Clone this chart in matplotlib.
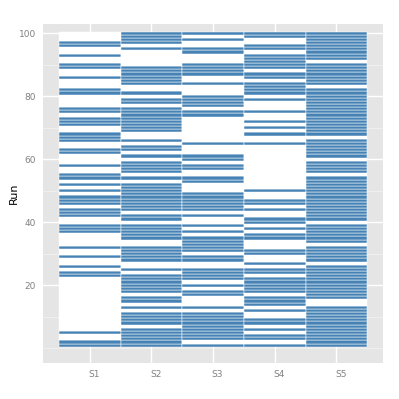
import matplotlib
matplotlib.use("Agg")
import matplotlib.pyplot as plt
import matplotlib.transforms as mtransforms
import numpy as np

series = ["S1", "S2", "S3", "S4", "S5"]
runs = list(range(1, 101))

S1 = [1, 2, 5, 23, 24, 26, 29, 32, 37, 38, 39, 42, 43, 44, 46, 47, 48, 50, 52, 54,
      55, 58, 62, 63, 66, 67, 68, 71, 72, 73, 75, 76, 81, 82, 86, 89, 90, 93, 96, 97]
S2 = [1, 2, 3, 4, 5, 6, 8, 9, 10, 11, 13, 15, 16, 18, 19, 20, 21, 22, 23, 25, 28, 29,
      30, 31, 32, 35, 36, 37, 38, 39, 41, 42, 44, 45, 46, 47, 48, 49, 50, 51, 52, 54,
      56, 57, 58, 59, 61, 63, 64, 66, 69, 70, 71, 72, 73, 74, 75, 76, 78, 79, 81, 84,
      85, 86, 87, 88, 89, 95, 97, 98, 99, 100]
S3 = [1, 3, 4, 5, 6, 7, 8, 9, 10, 11, 13, 17, 18, 20, 22, 23, 24, 25, 28, 29, 31, 32,
      33, 34, 35, 37, 39, 42, 44, 45, 46, 47, 48, 49, 53, 54, 57, 58, 60, 61, 65, 74,
      75, 77, 78, 79, 80, 84, 87, 88, 89, 90, 94, 95, 98, 100]
S4 = [1, 3, 4, 6, 8, 9, 12, 14, 15, 16, 18, 19, 20, 21, 22, 24, 25, 27, 30, 31, 35,
      36, 38, 40, 41, 44, 46, 47, 50, 65, 68, 70, 72, 75, 79, 81, 82, 83, 84, 86, 87,
      89, 90, 91, 92, 93, 95, 96, 99, 100]
S5 = [1, 2, 3, 4, 5, 6, 7, 8, 9, 10, 11, 12, 13, 16, 17, 18, 19, 20, 21, 22, 23, 24,
      25, 26, 28, 29, 30, 31, 32, 34, 35, 36, 37, 38, 39, 41, 42, 43, 44, 45, 46, 47,
      48, 49, 50, 51, 52, 53, 54, 56, 57, 58, 59, 61, 62, 63, 64, 65, 66, 68, 69, 70,
      71, 72, 73, 74, 75, 76, 77, 78, 79, 80, 81, 82, 84, 85, 86, 87, 88, 89, 90, 92,
      93, 94, 95, 96, 97, 98, 99, 100]
present = [S1, S2, S3, S4, S5]

y_ticks = [20, 40, 60, 80, 100]

BLUE = "#4682B4"

fig = plt.figure(figsize=(3.99, 3.99), dpi=100)
ax = fig.add_axes([0.108, 0.091, 0.852, 0.849])
ax.set_facecolor("#E5E5E5")

# grid
for v in [0, 10, 30, 50, 70, 90]:
    ax.axhline(v, color="#F2F2F2", lw=0.6, zorder=0)
for v in y_ticks:
    ax.axhline(v, color="white", lw=1.0, zorder=0)
for i in range(len(series)):
    ax.axvline(i + 1, color="white", lw=1.0, zorder=0)

for i, (name, pres) in enumerate(zip(series, present)):
    s = set(pres)
    colors = [BLUE if r in s else "white" for r in runs]
    ax.bar([i + 1] * len(runs), [1] * len(runs), bottom=np.array(runs) - 0.5,
           width=1.0, color=colors, edgecolor="white", linewidth=0.35, zorder=2)

ax.set_xlim(0.245, len(series) + 0.755)
ax.set_ylim(-4.58, 102.9)
ax.set_xticks(range(1, len(series) + 1))
ax.set_xticklabels(series)
ax.set_yticks(y_ticks)
ax.tick_params(length=0, labelsize=6.5, colors="#808080", pad=5)
offset = mtransforms.ScaledTranslation(0.045, 0, fig.dpi_scale_trans)
for lab in ax.get_xticklabels():
    lab.set_transform(lab.get_transform() + offset)
for sp in ax.spines.values():
    sp.set_visible(False)
ax.set_ylabel("Run", fontsize=8, color="black", labelpad=0)

fig.savefig("out.png", dpi=100, facecolor="white")
